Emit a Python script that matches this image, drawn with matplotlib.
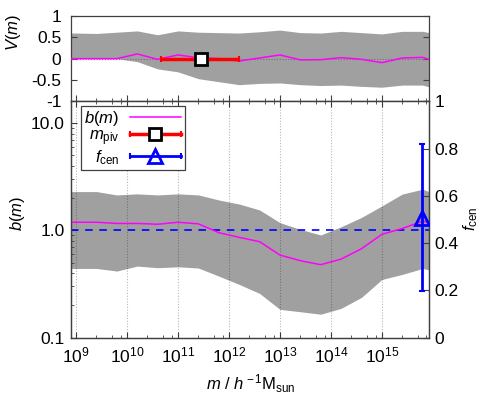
import numpy as np
import matplotlib
matplotlib.use("Agg")
import matplotlib.pyplot as plt
from matplotlib.ticker import LogLocator, FixedLocator, NullFormatter, FuncFormatter
from matplotlib.lines import Line2D
from matplotlib.legend_handler import HandlerLine2D, HandlerTuple

plt.rcParams['font.family'] = ['Liberation Sans', 'DejaVu Sans']
plt.rcParams['mathtext.fontset'] = 'custom'
plt.rcParams['mathtext.rm'] = 'Liberation Sans'
plt.rcParams['mathtext.it'] = 'Liberation Sans:italic'
plt.rcParams['mathtext.bf'] = 'Liberation Sans:bold'

# mass bins (log10 m)
logm = np.array([8.6, 9.0, 9.4, 9.8, 10.2, 10.6, 11.0, 11.4, 11.8, 12.2,
                 12.6, 13.0, 13.4, 13.8, 14.2, 14.6, 15.0, 15.4, 15.8, 16.2])

# top panel V(m)
v_mid = [0.0, 0.0, 0.0, 0.0, 0.11, -0.016, 0.087, 0.02, 0.0, -0.055,
         0.016, 0.087, -0.03, -0.024, 0.024, -0.016, -0.094, 0.016, 0.03, -0.12]
v_hi = [0.60, 0.60, 0.59, 0.62, 0.65, 0.56, 0.65, 0.62, 0.61, 0.60,
        0.63, 0.67, 0.61, 0.60, 0.64, 0.61, 0.58, 0.64, 0.64, 0.55]
v_lo = [0.0, 0.0, 0.0, 0.0, -0.07, -0.24, -0.31, -0.47, -0.54, -0.61,
        -0.58, -0.57, -0.61, -0.63, -0.62, -0.65, -0.67, -0.62, -0.62, -0.75]

# bottom panel b(m)
b_mid = [1.19, 1.19, 1.19, 1.16, 1.16, 1.14, 1.19, 1.15, 0.951, 0.860,
         0.784, 0.588, 0.521, 0.478, 0.539, 0.674, 0.918, 1.04, 1.22, 1.10]
b_hi = [2.30, 2.30, 2.30, 2.14, 2.19, 2.14, 2.19, 2.14, 1.92, 1.76,
        1.55, 1.18, 1.02, 0.905, 1.08, 1.32, 1.69, 2.18, 2.42, 2.05]
b_lo = [0.441, 0.441, 0.441, 0.417, 0.464, 0.448, 0.457, 0.445, 0.374, 0.313,
        0.258, 0.183, 0.174, 0.165, 0.187, 0.237, 0.348, 0.388, 0.441, 0.40]

# pivot mass and central fraction
logm_piv = 11.46
logm_piv_lo, logm_piv_hi = 10.67, 12.2
logm_cen = 15.78
f_cen = 0.506
f_cen_lo, f_cen_hi = 0.197, 0.82

x_decades = [9, 10, 11, 12, 13, 14, 15]

m = 10 ** logm
xlim = (10 ** 8.9, 10 ** 15.93)
band = '#a0a0a0'
frame = '0.25'
fs = 12.5   # tick labels
fl = 12     # axis labels / legend

fig = plt.figure(figsize=(4.87, 4.09), dpi=100)
ax1 = fig.add_axes([0.1458, 0.7523, 0.7357, 0.2086])
ax2 = fig.add_axes([0.1458, 0.1748, 0.7357, 0.5775])
ax3 = ax2.twinx()

for a in (ax1, ax2, ax3):
    for s in a.spines.values():
        s.set_color(frame)
        s.set_linewidth(0.9)

major_x = [10.0 ** d for d in x_decades]

# ---- top panel
ax1.fill_between(m, v_lo, v_hi, color=band, lw=0, zorder=1)
ax1.axhline(0, color='0.45', lw=0.8, ls=(0, (1, 1.5)), zorder=2)
ax1.plot(m, v_mid, color='#ff00ff', lw=1.1, zorder=3)
piv = 10 ** logm_piv
ax1.errorbar([piv], [0], xerr=[[piv - 10 ** logm_piv_lo], [10 ** logm_piv_hi - piv]],
             color='red', lw=2.5, capsize=2.5, capthick=1.5, ls='none', zorder=4)
ax1.plot([piv], [0], marker='s', ms=9, mfc='white', mec='black', mew=2, ls='none', zorder=5)
ax1.set_xscale('log')
ax1.set_xlim(*xlim)
ax1.set_ylim(-1, 1)
ax1.set_yticks([-1, -0.5, 0, 0.5, 1])
ax1.yaxis.set_major_formatter(FuncFormatter(lambda v, p: '%g' % v if v != 0 else '0'))
ax1.xaxis.set_major_locator(FixedLocator(major_x))
ax1.xaxis.set_minor_locator(LogLocator(base=10, subs=[2.5, 5, 7.5], numticks=20))
ax1.xaxis.set_major_formatter(NullFormatter())
ax1.xaxis.set_minor_formatter(NullFormatter())
ax1.tick_params(axis='both', which='both', direction='in', color=frame, labelsize=fs)
ax1.tick_params(axis='x', which='both', top=False, bottom=True)
ax1.tick_params(axis='y', which='both', left=True, right=True, pad=7)
ax1.tick_params(which='major', length=4.5)
ax1.tick_params(which='minor', length=2.5)

# ---- bottom panel
ax2.fill_between(m, b_lo, b_hi, color=band, lw=0, zorder=1)
for xv in major_x:
    ax2.axvline(xv, color='black', alpha=0.28, lw=0.8, ls=(0, (1, 1.5)), zorder=2)
ax2.axhline(1.0, color='blue', lw=1.2, ls=(0, (4.5, 4)), zorder=3)
l_b, = ax2.plot(m, b_mid, color='#ff00ff', lw=1.1, zorder=4)
ax2.set_xscale('log')
ax2.set_yscale('log')
ax2.set_xlim(*xlim)
ax2.set_ylim(0.1, 16)
ax2.xaxis.set_major_locator(FixedLocator(major_x))
ax2.xaxis.set_minor_locator(LogLocator(base=10, subs=[2.5, 5, 7.5], numticks=20))
ax2.xaxis.set_minor_formatter(NullFormatter())
ax2.xaxis.set_major_formatter(FuncFormatter(lambda v, p: r'$\mathregular{10^{%d}}$' % round(np.log10(v))))
ax2.yaxis.set_major_locator(FixedLocator([0.1, 1.0, 10.0]))
ax2.yaxis.set_minor_locator(LogLocator(base=10, subs=np.arange(2, 10), numticks=20))
ax2.yaxis.set_major_formatter(FuncFormatter(lambda v, p: '%.1f' % v))
ax2.yaxis.set_minor_formatter(NullFormatter())
ax2.tick_params(axis='both', which='both', direction='in', color=frame, labelsize=fs)
ax2.tick_params(axis='x', which='both', top=True, bottom=True, pad=6)
ax2.tick_params(axis='y', which='both', left=True, right=False, pad=4.5)
ax2.tick_params(which='major', length=4.5)
ax2.tick_params(which='minor', length=2.5)

ax3.set_ylim(0, 1)
ax3.set_yticks([0, 0.2, 0.4, 0.6, 0.8, 1.0])
ax3.yaxis.set_major_formatter(FuncFormatter(lambda v, p: '%g' % v))
ax3.tick_params(axis='y', direction='in', color=frame, labelsize=fs, length=4.5, pad=4)
cen = 10 ** logm_cen
ax3.errorbar([cen], [f_cen], yerr=[[f_cen - f_cen_lo], [f_cen_hi - f_cen]],
             color='blue', lw=2, capsize=2, capthick=1.5, ls='none', zorder=5)
ax3.plot([cen], [f_cen], marker='^', ms=10, mfc='none', mec='blue', mew=2, ls='none', zorder=6)

# legend
piv_bar = Line2D([], [], color='red', lw=2.5, marker='|', ms=5, mew=1.5)
piv_mk = Line2D([], [], ls='none', marker='s', ms=9, mfc='white', mec='black', mew=2)
cen_bar = Line2D([], [], color='blue', lw=2, marker='|', ms=5, mew=1.5)
cen_mk = Line2D([], [], ls='none', marker='^', ms=10, mfc='none', mec='blue', mew=2)
hmap = {piv_bar: HandlerLine2D(numpoints=2, marker_pad=0),
        cen_bar: HandlerLine2D(numpoints=2, marker_pad=0),
        piv_mk: HandlerLine2D(numpoints=1),
        cen_mk: HandlerLine2D(numpoints=1),
        tuple: HandlerTuple(ndivide=1, pad=0)}
leg = ax2.legend([l_b, (piv_bar, piv_mk), (cen_bar, cen_mk)],
                 [r'$b$($m$)', r'$m_{\rm piv}$', r'$f_{\rm cen}$'],
                 handler_map=hmap, loc='upper left', bbox_to_anchor=(0.028, 0.981),
                 borderaxespad=0, markerfirst=False, fontsize=fl, handlelength=3.1,
                 fancybox=False, framealpha=1, edgecolor=frame, labelspacing=0.0,
                 borderpad=0.2, handletextpad=0.6)
leg.get_frame().set_linewidth(0.9)
leg.set_zorder(10)

# axis labels
fig.text(0.0287, 0.9205, r'$V$($m$)', rotation=90, ha='center', va='center', fontsize=fl)
fig.text(0.036, 0.479, r'$b$($m$)', rotation=90, ha='center', va='center', fontsize=fl)
fig.text(0.967, 0.4645, r'$f_{\rm cen}$', rotation=90, ha='center', va='center', fontsize=fl)
fig.text(0.515, 0.061, r'$m$ / $h^{\rm -1}$M$_{\rm sun}$', ha='center', va='center', fontsize=fl)

fig.savefig('out.png', dpi=100)
